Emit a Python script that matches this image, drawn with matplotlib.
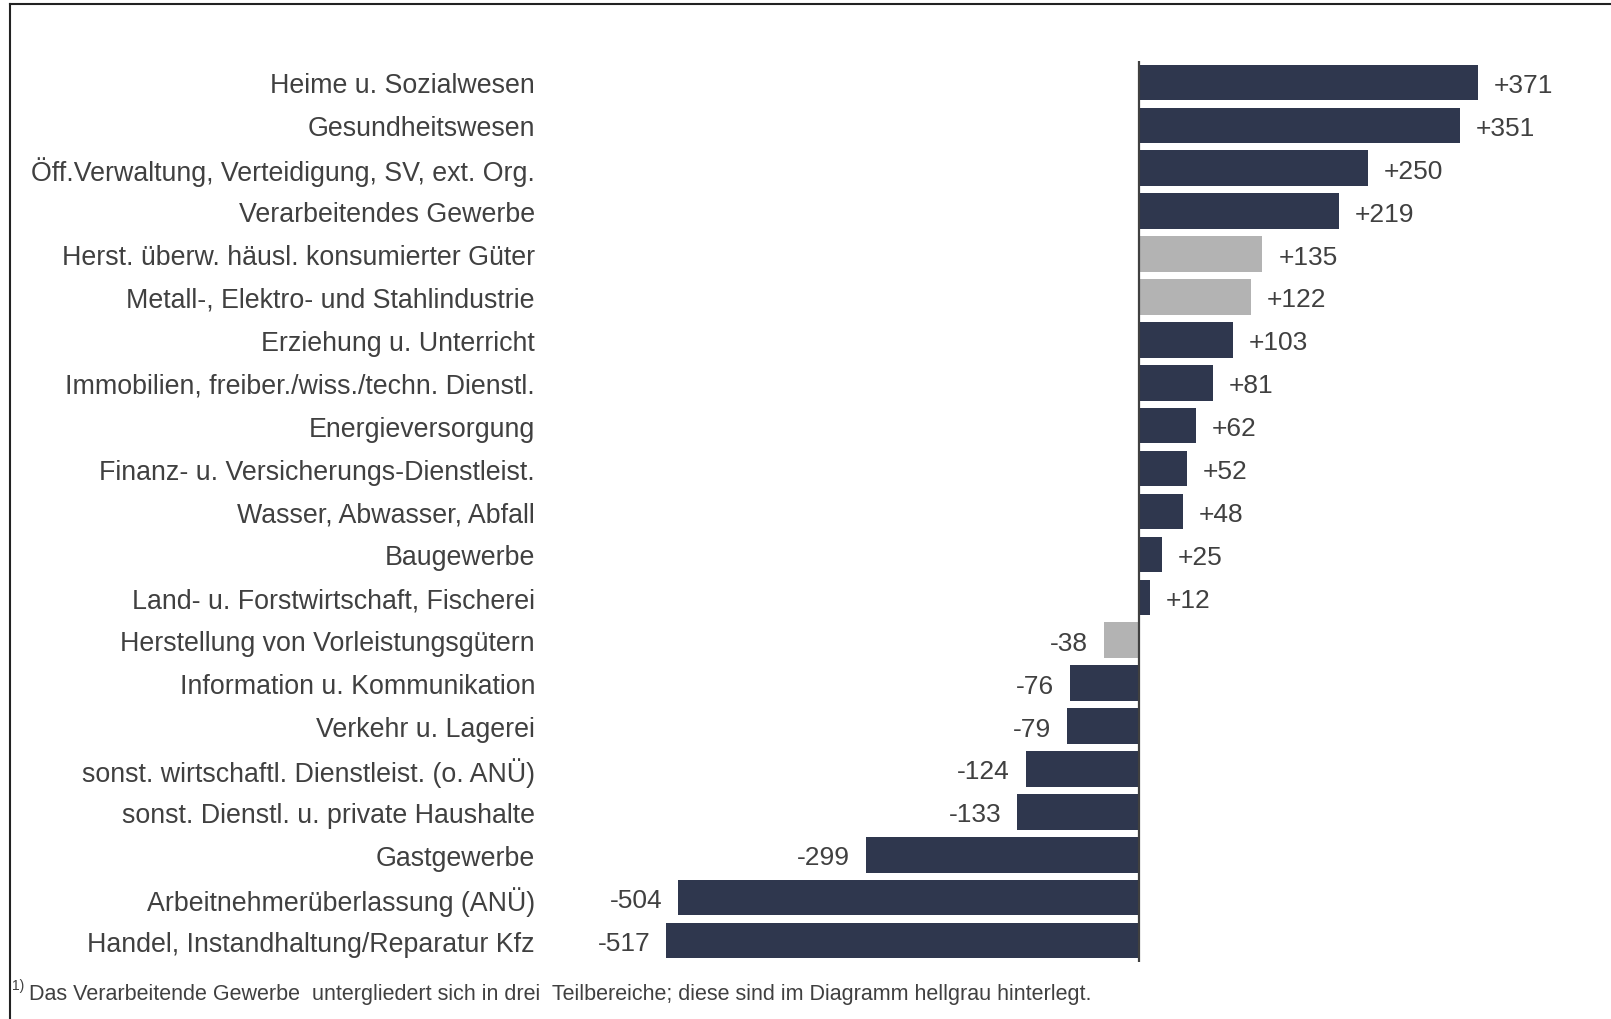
import matplotlib.pyplot as plt
from matplotlib.lines import Line2D

plt.rcParams["font.family"] = ["Liberation Sans", "DejaVu Sans"]

categories = [
    "Heime u. Sozialwesen",
    "Gesundheitswesen",
    "Öff.Verwaltung, Verteidigung, SV, ext. Org.",
    "Verarbeitendes Gewerbe",
    "Herst. überw. häusl. konsumierter Güter",
    "Metall-, Elektro- und Stahlindustrie",
    "Erziehung u. Unterricht",
    "Immobilien, freiber./wiss./techn. Dienstl.",
    "Energieversorgung",
    "Finanz- u. Versicherungs-Dienstleist.",
    "Wasser, Abwasser, Abfall",
    "Baugewerbe",
    "Land- u. Forstwirtschaft, Fischerei",
    "Herstellung von Vorleistungsgütern",
    "Information u. Kommunikation",
    "Verkehr u. Lagerei",
    "sonst. wirtschaftl. Dienstleist. (o. ANÜ)",
    "sonst. Dienstl. u. private Haushalte",
    "Gastgewerbe",
    "Arbeitnehmerüberlassung (ANÜ)",
    "Handel, Instandhaltung/Reparatur Kfz",
]
values = [371, 351, 250, 219, 135, 122, 103, 81, 62, 52, 48, 25, 12,
          -38, -76, -79, -124, -133, -299, -504, -517]
# sub-sectors of manufacturing are shown in light grey
sub_sectors = {
    "Herst. überw. häusl. konsumierter Güter",
    "Metall-, Elektro- und Stahlindustrie",
    "Herstellung von Vorleistungsgütern",
}
footnote = ("Das Verarbeitende Gewerbe  untergliedert sich in drei  "
            "Teilbereiche; diese sind im Diagramm hellgrau hinterlegt.")

DARK = "#2f374e"
GREY = "#b3b3b3"
TEXT = "#404040"

W, H = 1611, 1020
fig = plt.figure(figsize=(W / 100, H / 100), dpi=100)

# axes placed in pixels: zero line at x=1139, rows from y=62 to y=963
x_min, x_max = -560, 420
px_per_unit = 0.914
ax_left = 1139 + x_min * px_per_unit
ax_width = (x_max - x_min) * px_per_unit
ax = fig.add_axes([ax_left / W, 1 - 963 / H, ax_width / W, (963 - 62) / H])

colors = [GREY if c in sub_sectors else DARK for c in categories]
ypos = list(range(len(categories)))
ax.barh(ypos, values, height=0.83, color=colors, edgecolor="none")
ax.set_xlim(x_min, x_max)
ax.set_ylim(len(categories) - 0.5, -0.5)

off = 16 / px_per_unit
for y, v in zip(ypos, values):
    if v >= 0:
        ax.text(v + off, y, f"+{v}", va="center_baseline", ha="left",
                fontsize=19, color=TEXT)
    else:
        ax.text(v - off, y, f"{v}", va="center_baseline", ha="right",
                fontsize=19, color=TEXT)

ax.axvline(0, color="#404040", lw=1.6)
ax.set_yticks(ypos)
ax.set_yticklabels(categories, fontsize=19.3, color=TEXT)
ax.tick_params(axis="y", length=0, pad=(ax_left - 535) * 0.72)
ax.set_xticks([])
for s in ax.spines.values():
    s.set_visible(False)

# footnote with superscript marker
fig.text(12 / W, 1 - 986 / H, "1)", fontsize=10, color=TEXT, va="center")
fig.text(29 / W, 1 - 995 / H, footnote, fontsize=15.5, color=TEXT, va="center")

# frame lines (top and left only)
fig.add_artist(Line2D([10 / W, 1], [1 - 5 / H, 1 - 5 / H], color="#222222", lw=1.5,
                      transform=fig.transFigure))
fig.add_artist(Line2D([10 / W, 10 / W], [0, 1 - 5 / H], color="#222222", lw=1.5,
                      transform=fig.transFigure))

fig.savefig("out.png", dpi=100)
